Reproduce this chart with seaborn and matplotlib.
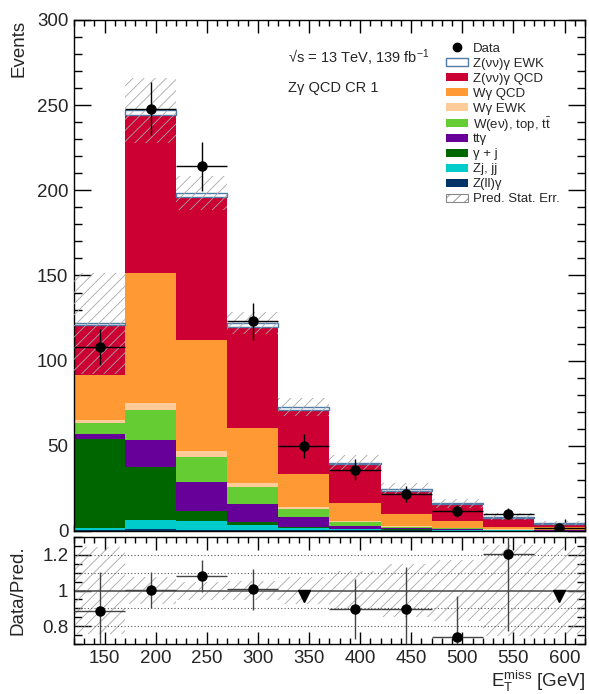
import numpy as np
import pandas as pd
import matplotlib
matplotlib.use("Agg")
import matplotlib.pyplot as plt
import seaborn as sns
from matplotlib.patches import Rectangle
from matplotlib.lines import Line2D
from matplotlib.ticker import MultipleLocator, FixedLocator
from matplotlib.colors import to_rgba

# ---- binning (E_T^miss, GeV) ----
bin_edges = [120, 170, 220, 270, 320, 370, 420, 470, 520, 570, 620]
bin_centers = [145, 195, 245, 295, 345, 395, 445, 495, 545, 595]

# ---- expected yields per process ----
zvvg_ewk = [1.2, 3.0, 2.4, 2.3, 1.9, 0.9, 1.0, 0.6, 0.7, 0.4]
zvvg_qcd = [29.0, 92.5, 83.5, 59.0, 37.7, 22.7, 13.8, 9.6, 5.1, 1.8]
wg_qcd = [26.8, 76.1, 65.4, 32.8, 19.0, 10.6, 7.0, 4.2, 1.5, 1.55]
wg_ewk = [1.5, 4.1, 3.4, 2.3, 1.1, 0.6, 0.4, 0.3, 0.2, 0.15]
wenu_top = [6.3, 18.0, 15.0, 9.8, 5.1, 2.4, 0.8, 0.5, 0.3, 0.25]
ttg = [3.3, 16.0, 16.6, 10.4, 5.5, 1.7, 0.6, 0.3, 0.15, 0.1]
gamma_j = [52.3, 30.9, 5.9, 1.9, 0.5, 0.3, 0.2, 0.1, 0.05, 0.05]
zj_jj = [1.2, 5.4, 5.2, 2.9, 1.6, 0.7, 0.5, 0.4, 0.2, 0.1]
zllg = [0.4, 1.0, 0.8, 0.6, 0.4, 0.3, 0.3, 0.2, 0.1, 0.1]
pred_stat_err = [29.6, 19.0, 10.0, 6.5, 5.5, 4.3, 3.7, 2.8, 2.1, 1.1]

# ---- observed data ----
data = [108, 248, 214, 123, 50, 36, 22, 12, 10, 2]
data_err = [10.4, 15.7, 14.6, 11.1, 7.1, 6.0, 4.7, 3.5, 3.2, 1.4]
ratio_err = [0.22, 0.10, 0.09, 0.115, 0.0, 0.17, 0.24, 0.23, 0.43, 0.0]

# stacking / legend order, top of the stack first
labels = ["Z(νν)γ EWK", "Z(νν)γ QCD", "Wγ QCD", "Wγ EWK",
          "W(eν), top, t$\\bar{\\mathrm{t}}$", "ttγ", "γ + j", "Zj, jj", "Z(ll)γ"]
yields = [zvvg_ewk, zvvg_qcd, wg_qcd, wg_ewk, wenu_top, ttg, gamma_j, zj_jj, zllg]
colors = ["#FFFFFF", "#CC0033", "#FF9933", "#FFCC99", "#66CC33",
          "#660099", "#006600", "#00CCCC", "#003366"]
ewk_edge = "#4F7BA6"
hatch_col = "#A8A8A8"

sns.set_theme(style="ticks")
plt.rcParams["font.family"] = ["Liberation Sans", "DejaVu Sans"]
plt.rcParams["mathtext.fontset"] = "custom"
plt.rcParams["mathtext.rm"] = "Liberation Sans"
plt.rcParams["mathtext.it"] = "Liberation Sans:italic"
plt.rcParams["hatch.linewidth"] = 0.6
plt.rcParams["hatch.color"] = hatch_col
plt.rcParams["axes.linewidth"] = 1.0
plt.rcParams["axes.edgecolor"] = "black"

W, H = 589, 694
fig = plt.figure(figsize=(W / 100, H / 100), dpi=100)
ax = fig.add_axes([0.1256, 0.2349, 0.8676, 0.7363])
axr = fig.add_axes([0.1256, 0.0720, 0.8676, 0.1542])

# ---- stacked prediction ----
n = len(bin_centers)
df = pd.DataFrame({
    "met": np.tile(bin_centers, len(labels)),
    "events": np.concatenate(yields),
    "process": np.repeat(labels, n),
})
sns.histplot(data=df, x="met", weights="events", hue="process",
             hue_order=labels, multiple="stack", bins=bin_edges,
             palette=dict(zip(labels, colors)), alpha=1, linewidth=0,
             element="bars", legend=False, ax=ax)
for p in ax.patches:
    if to_rgba(p.get_facecolor())[:3] == (1.0, 1.0, 1.0):
        p.set_edgecolor(ewk_edge)
        p.set_linewidth(1.0)

total = np.sum(np.array(yields), axis=0)
err = np.array(pred_stat_err)
ax.bar(bin_centers, 2 * err, bottom=total - err, width=50, fill=False,
       hatch="///", edgecolor=hatch_col, linewidth=0, zorder=3)

ax.errorbar(bin_centers, data, yerr=data_err, xerr=25, fmt="o",
            color="black", ms=6.5, elinewidth=1.0, capsize=0, zorder=5)

ax.set_xlim(120, 620)
ax.set_ylim(0, 300)
ax.xaxis.set_major_locator(MultipleLocator(50))
ax.xaxis.set_minor_locator(MultipleLocator(10))
ax.yaxis.set_major_locator(MultipleLocator(50))
ax.yaxis.set_minor_locator(MultipleLocator(10))
ax.tick_params(which="both", direction="in", top=True, right=True,
               labelbottom=False, labelsize=13.5, width=1, color="black")
ax.tick_params(axis="y", which="major", length=12, pad=4)
ax.tick_params(axis="y", which="minor", length=6)
ax.tick_params(axis="x", which="major", length=9)
ax.tick_params(axis="x", which="minor", length=4.5)
ax.set_xlabel("")
ax.set_ylabel("Events", fontsize=13.5, loc="top")
ax.yaxis.set_label_coords(-0.09, 1.0)

ax.text(0.419, 0.926, "√s = 13 TeV, 139 fb$^{-1}$", transform=ax.transAxes,
        fontsize=10.5, va="center", ha="left")
ax.text(0.419, 0.867, "Zγ QCD CR 1", transform=ax.transAxes,
        fontsize=10.5, va="center", ha="left")

# ---- legend, laid out row by row in figure pixels ----
def fx(px):
    return px / W


def fy(py):
    return 1 - py / H


leg_labels = ["Data"] + labels + ["Pred. Stat. Err."]
row0, row_step = 47.0, 15.1
box_x0, box_w, box_h, text_x = 446.0, 22.0, 8.0, 473.0
for i, lab in enumerate(leg_labels):
    yc = row0 + i * row_step
    if i == 0:
        fig.add_artist(Line2D([fx(box_x0 + box_w / 2)], [fy(yc)], marker="o",
                              color="black", ms=6, transform=fig.transFigure))
    else:
        if lab == "Pred. Stat. Err.":
            kw = dict(facecolor="white", edgecolor="#888888", hatch="///",
                      linewidth=0.8)
        else:
            col = colors[i - 1]
            if col == "#FFFFFF":
                kw = dict(facecolor="white", edgecolor=ewk_edge, linewidth=1.0)
            else:
                kw = dict(facecolor=col, edgecolor=col, linewidth=0)
        fig.add_artist(Rectangle((fx(box_x0), fy(yc + box_h / 2)), fx(box_w),
                                 box_h / H, transform=fig.transFigure, **kw))
    fig.text(fx(text_x), fy(yc), lab, fontsize=9.5, ha="left",
             va="center_baseline")

# ---- ratio panel ----
ratio = np.array(data) / total
rel_err = err / total
axr.bar(bin_centers, 2 * rel_err, bottom=1 - rel_err, width=50, fill=False,
        hatch="///", edgecolor=hatch_col, linewidth=0, zorder=1)
for yv in [0.8, 0.9, 1.1, 1.2]:
    axr.axhline(yv, color="#555555", ls=(0, (1, 2)), lw=0.8, zorder=2)
axr.axhline(1.0, color="#555555", lw=1.2, zorder=2)

ratio_lo, ratio_hi = 0.7, 1.3
arrow_y = 0.97
inside = (ratio > ratio_lo) & (ratio < ratio_hi)
xc = np.array(bin_centers)
axr.errorbar(xc[inside], ratio[inside], yerr=np.array(ratio_err)[inside],
             xerr=25, fmt="o", color="black", ecolor="#444444", ms=6.5,
             elinewidth=1.0, capsize=0, zorder=5)
axr.plot(xc[~inside], np.full((~inside).sum(), arrow_y), "v", color="black",
         ms=9, zorder=5)

axr.set_xlim(120, 620)
axr.set_ylim(ratio_lo, ratio_hi)
axr.xaxis.set_major_locator(MultipleLocator(50))
axr.xaxis.set_minor_locator(MultipleLocator(10))
axr.yaxis.set_major_locator(FixedLocator([0.8, 1.0, 1.2]))
axr.yaxis.set_minor_locator(MultipleLocator(0.05))
axr.set_yticklabels(["0.8", "1", "1.2"])
axr.tick_params(which="both", direction="in", top=True, right=True,
                labelsize=13.5, width=1, color="black")
axr.tick_params(axis="y", which="major", length=12, pad=4)
axr.tick_params(axis="y", which="minor", length=6)
axr.tick_params(axis="x", which="major", length=9, pad=4)
axr.tick_params(axis="x", which="minor", length=4.5)
axr.set_ylabel("Data/Pred.", fontsize=13.5)
axr.yaxis.set_label_coords(-0.092, 0.5)
axr.set_xlabel("$\\mathrm{E}_{\\mathrm{T}}^{\\mathrm{miss}}$ [GeV]", fontsize=13.5,
               loc="right")
axr.xaxis.set_label_coords(1.0, -0.235)

fig.savefig("out.png", dpi=100)
